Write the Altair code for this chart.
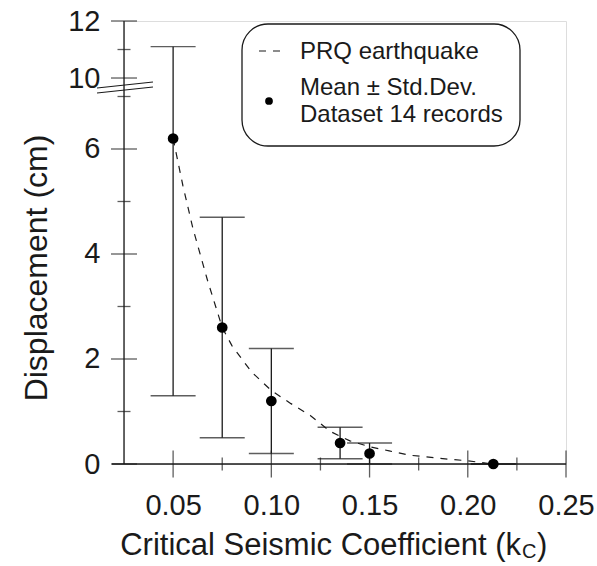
import altair as alt
import pandas as pd

# ---- data ----
kc = [0.05, 0.075, 0.10, 0.135, 0.15, 0.213]
mean_disp = [6.2, 2.6, 1.2, 0.4, 0.2, 0.0]
lower_disp = [1.3, 0.5, 0.2, 0.1, 0.0, 0.0]
upper_disp = [11.1, 4.7, 2.2, 0.7, 0.4, 0.0]

curve_kc = [0.05, 0.055, 0.06, 0.0675, 0.075, 0.08, 0.09, 0.10, 0.11, 0.12,
            0.13, 0.14, 0.15, 0.16, 0.17, 0.185, 0.20, 0.213]
curve_disp = [6.2, 5.3, 4.5, 3.5, 2.6, 2.25, 1.75, 1.4, 1.15, 0.92,
              0.62, 0.44, 0.33, 0.25, 0.17, 0.11, 0.06, 0.0]

x_major = [0.05, 0.10, 0.15, 0.20, 0.25]
x_minor = [0.075, 0.125, 0.175, 0.225]
y_major = [0, 2, 4, 6, 10, 12]
y_minor = [1, 3, 5, 7, 11]

FONT = "Liberation Sans"
INK = "#1a1a1a"

# broken axis: 0..8 linear, 10..12 compressed above the break
BRK = "(datum.v <= 8 ? datum.v : 7.352 + (datum.v - 10) * 0.5429)"
YDOM = [0, 8.438]
XDOM = [0.025, 0.25]

y_label_vals = [0, 2, 4, 6, 7.352, 8.438]
label_expr = "datum.value > 7 ? format(10 + round((datum.value - 7.352) / 0.5429), 'd') : format(datum.value, 'd')"

xaxis = alt.Axis(values=x_major, format=".2f", domain=False, ticks=False, grid=False,
                 labelFontSize=29, labelFont=FONT, labelColor=INK, labelPadding=27,
                 title=None, labelFlush=False)
yaxis = alt.Axis(values=y_label_vals, labelExpr=label_expr, domain=False, ticks=False,
                 grid=False, labelFontSize=29, labelFont=FONT, labelColor=INK,
                 labelPadding=24, title=None)


def X(field):
    return alt.X(field, type="quantitative", scale=alt.Scale(domain=XDOM, nice=False, zero=False), axis=xaxis)


def Y(field):
    return alt.Y(field, type="quantitative", scale=alt.Scale(domain=YDOM, nice=False, zero=False), axis=yaxis)


pts = pd.DataFrame({"kc": kc, "mean": mean_disp, "lo": lower_disp, "hi": upper_disp})
curve = pd.DataFrame({"kc": curve_kc, "v": curve_disp})

base_pts = alt.Chart(pts).transform_calculate(
    ym=BRK.replace("datum.v", "datum.mean"),
    yl=BRK.replace("datum.v", "datum.lo"),
    yh=BRK.replace("datum.v", "datum.hi"),
)

bars = base_pts.mark_rule(color=INK, strokeWidth=1.3).encode(x=X("kc"), y=Y("yl"), y2="yh")
cap_lo = base_pts.mark_tick(orient="horizontal", color=INK, thickness=1.3, size=45).encode(x=X("kc"), y=Y("yl"))
cap_hi = base_pts.mark_tick(orient="horizontal", color=INK, thickness=1.3, size=45).encode(x=X("kc"), y=Y("yh"))
dots = base_pts.mark_circle(color="black", size=115, opacity=1).encode(x=X("kc"), y=Y("ym"))

line = alt.Chart(curve).transform_calculate(yv=BRK).mark_line(
    color=INK, strokeWidth=1.2, strokeDash=[7, 7]
).encode(x=X("kc"), y=Y("yv"))

# axis lines
y_axis_line = alt.Chart(pd.DataFrame({"a": [0]})).mark_rule(color=INK, strokeWidth=1.3).encode(
    x=alt.value(0), y=alt.value(0), y2=alt.value(443))
x_axis_line = alt.Chart(pd.DataFrame({"a": [0]})).mark_rule(color=INK, strokeWidth=1.3).encode(
    x=alt.value(-12), x2=alt.value(442), y=alt.value(443))

xt_major = alt.Chart(pd.DataFrame({"kc": x_major, "z": [0] * len(x_major)})).mark_tick(
    orient="vertical", color=INK, thickness=1.3, size=27).encode(x=X("kc"), y=Y("z"))
xt_minor = alt.Chart(pd.DataFrame({"kc": x_minor, "z": [0] * len(x_minor)})).mark_tick(
    orient="vertical", color=INK, thickness=1.3, size=13).encode(x=X("kc"), y=Y("z"))

yt_major = alt.Chart(pd.DataFrame({"v": y_major, "x0": [XDOM[0]] * len(y_major)})).transform_calculate(
    yv=BRK).mark_tick(orient="horizontal", color=INK, thickness=1.3, size=26).encode(x=X("x0"), y=Y("yv"))
yt_minor = alt.Chart(pd.DataFrame({"v": y_minor, "x0": [XDOM[0]] * len(y_minor)})).transform_calculate(
    yv=BRK).mark_tick(orient="horizontal", color=INK, thickness=1.3, size=13).encode(x=X("x0"), y=Y("yv"))

one = pd.DataFrame({"a": [0]})
brk1 = alt.Chart(one).mark_rule(color=INK, strokeWidth=1.2).encode(
    x=alt.value(-27), y=alt.value(67), x2=alt.value(29), y2=alt.value(61))
brk2 = alt.Chart(one).mark_rule(color=INK, strokeWidth=1.2).encode(
    x=alt.value(-27), y=alt.value(72), x2=alt.value(29), y2=alt.value(66))

# axis titles
ytitle = alt.Chart(one).mark_text(font=FONT, fontSize=32, angle=270, color=INK,
                                  align="center", baseline="middle").encode(
    x=alt.value(-87), y=alt.value(247), text=alt.value("Displacement (cm)"))
xtitle = alt.Chart(one).mark_text(font=FONT, fontSize=31, color=INK, align="right",
                                  baseline="alphabetic").encode(
    x=alt.value(397), y=alt.value(534), text=alt.value("Critical Seismic Coefficient (k"))
xsub = alt.Chart(one).mark_text(font=FONT, fontSize=20, color=INK, align="left",
                                baseline="alphabetic").encode(
    x=alt.value(398), y=alt.value(537), text=alt.value("C"))
xclose = alt.Chart(one).mark_text(font=FONT, fontSize=31, color=INK, align="left",
                                  baseline="alphabetic").encode(
    x=alt.value(413), y=alt.value(534), text=alt.value(")"))

# legend
leg_box = alt.Chart(one).mark_rect(fill="white", stroke=INK, strokeWidth=1.3, cornerRadius=26).encode(
    x=alt.value(118), x2=alt.value(396), y=alt.value(3), y2=alt.value(125))
leg_line = alt.Chart(one).mark_rule(color=INK, strokeWidth=1.2, strokeDash=[7, 7]).encode(
    x=alt.value(135), x2=alt.value(160), y=alt.value(30))
leg_dot = alt.Chart(one).mark_circle(color="black", size=60, opacity=1).encode(
    x=alt.value(145), y=alt.value(80))
leg_t1 = alt.Chart(one).mark_text(font=FONT, fontSize=24, color=INK, align="left", baseline="alphabetic").encode(
    x=alt.value(176), y=alt.value(38), text=alt.value("PRQ earthquake"))
leg_t2 = alt.Chart(one).mark_text(font=FONT, fontSize=24, color=INK, align="left", baseline="alphabetic").encode(
    x=alt.value(176), y=alt.value(74), text=alt.value("Mean ± Std.Dev."))
leg_t3 = alt.Chart(one).mark_text(font=FONT, fontSize=24, color=INK, align="left", baseline="alphabetic").encode(
    x=alt.value(176), y=alt.value(101), text=alt.value("Dataset 14 records"))

chart = alt.layer(
    y_axis_line, x_axis_line, xt_major, xt_minor, yt_major, yt_minor, brk1, brk2,
    line, bars, cap_lo, cap_hi, dots,
    leg_box, leg_line, leg_dot, leg_t1, leg_t2, leg_t3,
    ytitle, xtitle, xsub, xclose,
).properties(
    width=442, height=443,
    autosize=alt.AutoSizeParams(type="none"),
    padding={"left": 124, "top": 21, "right": 31, "bottom": 102},
).configure_view(stroke=None).configure(background="white")

chart.save("out.html", embed_options={"renderer": "svg", "actions": False})
